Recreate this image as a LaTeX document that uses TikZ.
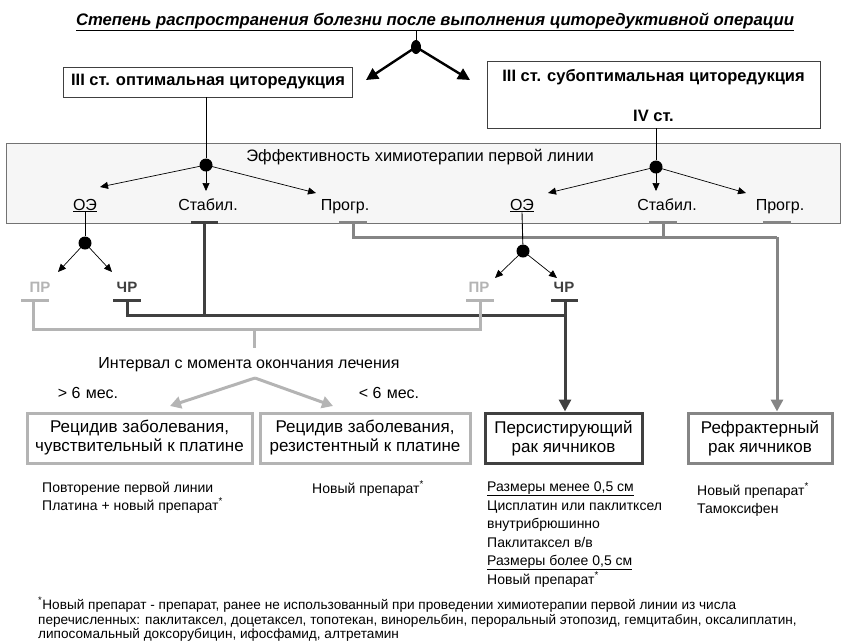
\documentclass[tikz,border=0pt]{standalone}
\usepackage{fontspec}
\setmainfont{Liberation Sans}
\usetikzlibrary{arrows.meta,shapes.geometric}
\definecolor{cdark}{HTML}{404040}
\definecolor{cmid}{HTML}{858585}
\definecolor{clight}{HTML}{B4B4B4}
\definecolor{bandfill}{HTML}{F6F6F6}
\tikzset{
  fs/.style={font=\fontsize{#1}{#1}\selectfont},
  lab/.style={inner sep=0pt, fs=16},
  blab/.style={inner sep=0pt, fs=16, anchor=base},
  blk/.style={circle, fill=black, minimum size=13pt, inner sep=0pt},
  thinarr/.style={-{Triangle[length=8pt,width=7pt]}, line width=0.7pt},
  bigarr/.style={-{Triangle[length=12pt,width=12pt]}, line width=2.4pt},
  thin/.style={line width=0.9pt},
  ldark/.style={line width=3pt, draw=cdark},
  lmid/.style={line width=3pt, draw=cmid},
  llight/.style={line width=3pt, draw=clight},
  topbox/.style={draw=black!75, line width=0.8pt, inner sep=0pt},
  toptxt/.style={inner sep=0pt, font=\bfseries\fontsize{16.5}{16.5}\selectfont},
  rbox/.style={line width=3pt, inner sep=0pt, minimum height=50pt, align=center, fs=17},
  note/.style={inner sep=0pt, anchor=base west, fs=14},
  fnote/.style={inner sep=0pt, anchor=base west, fs=13.6},
  prc/.style={inner sep=0pt, font=\bfseries\fontsize{15}{15}\selectfont},
}
\begin{document}
\begin{tikzpicture}[x=1pt,y=-1pt]
\useasboundingbox (0,0) rectangle (843,641);
% title
\node[inner sep=0pt, anchor=base, font=\bfseries\itshape\fontsize{16.7}{16.7}\selectfont] (title) at (435,25)
  {\underline{Степень распространения болезни после выполнения циторедуктивной операции}};
\coordinate (tbase) at (416,30);
\node[ellipse, fill=black, minimum width=10pt, minimum height=14pt, inner sep=0pt] (d0) at (416,47) {};
\draw[thin] (tbase) -- (d0);
\coordinate (ta1) at (366,80);
\coordinate (ta2) at (470,80);
\draw[bigarr] (d0.center) -- (ta1);
\draw[bigarr] (d0.center) -- (ta2);
% top boxes
\node[topbox, minimum width=289pt, minimum height=30pt] (opt) at (207.5,82) {};
\node[toptxt] (optt) at (208,82) {III ст. оптимальная циторедукция};
\node[topbox, minimum width=333pt, minimum height=67pt] (sub) at (653.5,94.5) {};
\node[toptxt] (subt) at (653.5,77) {III ст. субоптимальная циторедукция};
\node[toptxt] (ivt) at (653.5,116) {IV ст.};
% band
\node[draw=black!55, fill=bandfill, line width=0.8pt, minimum width=834pt, minimum height=80pt, inner sep=0pt] (band) at (423,183) {};
\node[inner sep=0pt, fs=16.5] (eff) at (420,157) {Эффективность химиотерапии первой линии};
\node[blk] (d1) at (206,165) {};
\node[blk] (d2) at (656,167) {};
\draw[thin] (opt.south -| d1) -- (d1);
\draw[thin] (sub.south -| d2) -- (d2);
% labels in band
\node[blab] (oe1) at (85,210) {\underline{ОЭ}};
\node[blab] (st1) at (208,210) {Стабил.};
\node[blab] (pr1) at (345,210) {Прогр.};
\node[blab] (oe2) at (522,210) {\underline{ОЭ}};
\node[blab] (st2) at (667,210) {Стабил.};
\node[blab] (pr2) at (780,210) {Прогр.};
\coordinate (a11) at (100,187); \coordinate (a12) at (206,191); \coordinate (a13) at (316,193);
\coordinate (a21) at (548,193); \coordinate (a22) at (656,191); \coordinate (a23) at (746,193);
\draw[thinarr] (d1.center) -- (a11);
\draw[thinarr] (d1.center) -- (a12);
\draw[thinarr] (d1.center) -- (a13);
\draw[thinarr] (d2.center) -- (a21);
\draw[thinarr] (d2.center) -- (a22);
\draw[thinarr] (d2.center) -- (a23);
% T-bars on band bottom
\coordinate (tst1) at (204,222); \coordinate (tpr1) at (353,222);
\coordinate (tst2) at (663,222); \coordinate (tpr2) at (777,222);
\draw[ldark] ([xshift=-13pt]tst1) -- ([xshift=14pt]tst1);
\draw[lmid] ([xshift=-14pt]tpr1) -- ([xshift=14pt]tpr1);
\draw[lmid] ([xshift=-14pt]tst2) -- ([xshift=14pt]tst2);
\draw[lmid] ([xshift=-14pt]tpr2) -- ([xshift=14pt]tpr2);
% medium gray collector
\coordinate (mh1) at (353,237); \coordinate (mh2) at (663,237); \coordinate (mh3) at (777,237);
\draw[lmid] (tpr1) -- (mh1) -- (mh3);
\draw[lmid] (tst2) -- (mh2);
% OE sub-branches
\node[blk] (d3) at (85,243) {};
\node[blk] (d4) at (523,251) {};
\draw[thin] (oe1.south) -- (d3);
\draw[thin] (oe2.south) -- (d4);
\coordinate (b11) at (58,272); \coordinate (b12) at (112,272);
\coordinate (b21) at (495,278); \coordinate (b22) at (557,278);
\draw[thinarr] (d3.center) -- (b11);
\draw[thinarr] (d3.center) -- (b12);
\draw[thinarr] (d4.center) -- (b21);
\draw[thinarr] (d4.center) -- (b22);
\node[prc, text=clight] (pr1l) at (40,287) {ПР};
\node[prc, text=cdark] (cr1l) at (127,287) {ЧР};
\node[prc, text=clight] (pr2l) at (479,287) {ПР};
\node[prc, text=cdark] (cr2l) at (564,287) {ЧР};
\coordinate (tp1) at (33,300); \coordinate (tc1) at (127,300);
\coordinate (tp2) at (480,300); \coordinate (tc2) at (565,300);
\draw[llight] ([xshift=-12pt]tp1) -- ([xshift=16pt]tp1);
\draw[ldark] ([xshift=-14pt]tc1) -- ([xshift=14pt]tc1);
\draw[llight] ([xshift=-14pt]tp2) -- ([xshift=14pt]tp2);
\draw[ldark] ([xshift=-14pt]tc2) -- ([xshift=13pt]tc2);
% dark collector
\coordinate (dh1) at (127,315); \coordinate (dh2) at (204,315); \coordinate (dh3) at (565,315);
\draw[ldark] (tc1) -- (dh1) -- (dh3);
\draw[ldark] (tst1) -- (dh2);
% light collector
\coordinate (lh1) at (33,329); \coordinate (lh2) at (254,329); \coordinate (lh3) at (480,329);
\coordinate (lv) at (254,348);
\draw[llight] (tp1) -- (lh1) -- (lh3) -- (tp2);
\draw[llight] (lh2) -- (lv);
% interval
\node[lab] (intv) at (249,365) {Интервал с момента окончания лечения};
\node[lab] (gt) at (88,393) {> 6\,\,мес.};
\node[lab] (lt) at (389,393) {< 6\,\,мес.};
% result boxes
\node[rbox, draw=clight, minimum width=225pt] (r1) at (139.5,438) {Рецидив заболевания,\\[2pt]чувствительный к платине};
\node[rbox, draw=clight, minimum width=210pt] (r2) at (365,438) {Рецидив заболевания,\\[2pt]резистентный к платине};
\node[rbox, draw=cdark, minimum width=157pt] (r3) at (563.5,438) {Персистирующий\\[2pt]рак яичников};
\node[rbox, draw=cmid, minimum width=144pt] (r4) at (760,438) {Рефрактерный\\[2pt]рак яичников};
\coordinate (ia) at (255,378);
\draw[llight, -{Triangle[length=11pt,width=12pt]}] (ia) -- (170,406);
\draw[llight, -{Triangle[length=11pt,width=12pt]}] (ia) -- (333,406);
\draw[ldark, -{Triangle[length=12pt,width=12pt]}] (tc2) -- (tc2 |- r3.north);
\draw[lmid, -{Triangle[length=12pt,width=12pt]}] (mh3) -- (mh3 |- r4.north);
% notes
\node[note] (n1) at (42,492) {Повторение первой линии};
\node[note] (n2) at (42,510) {Платина + новый препарат\textsuperscript{*}};
\node[note] (n3) at (312,493) {Новый препарат\textsuperscript{*}};
\node[note] (p1) at (487,491) {\underline{Размеры менее 0,5 см}};
\node[note] (p2) at (487,510) {Цисплатин или паклитксел};
\node[note] (p3) at (487,528) {внутрибрюшинно};
\node[note] (p4) at (487,547) {Паклитаксел в/в};
\node[note] (p5) at (487,565) {\underline{Размеры более 0,5 см}};
\node[note] (p6) at (487,584) {Новый препарат\textsuperscript{*}};
\node[note] (f1) at (697,495) {Новый препарат\textsuperscript{*}};
\node[note] (f2) at (697,513) {Тамоксифен};
% footnote
\node[fnote] (fn1) at (38,609) {\textsuperscript{*}Новый препарат - препарат, ранее не использованный при проведении химиотерапии первой линии из числа};
\node[fnote] (fn2) at (38,624) {перечисленных: паклитаксел, доцетаксел, топотекан, винорельбин, пероральный этопозид, гемцитабин, оксалиплатин,};
\node[fnote] (fn3) at (38,638) {липосомальный доксорубицин, ифосфамид, алтретамин};
\end{tikzpicture}
\end{document}
